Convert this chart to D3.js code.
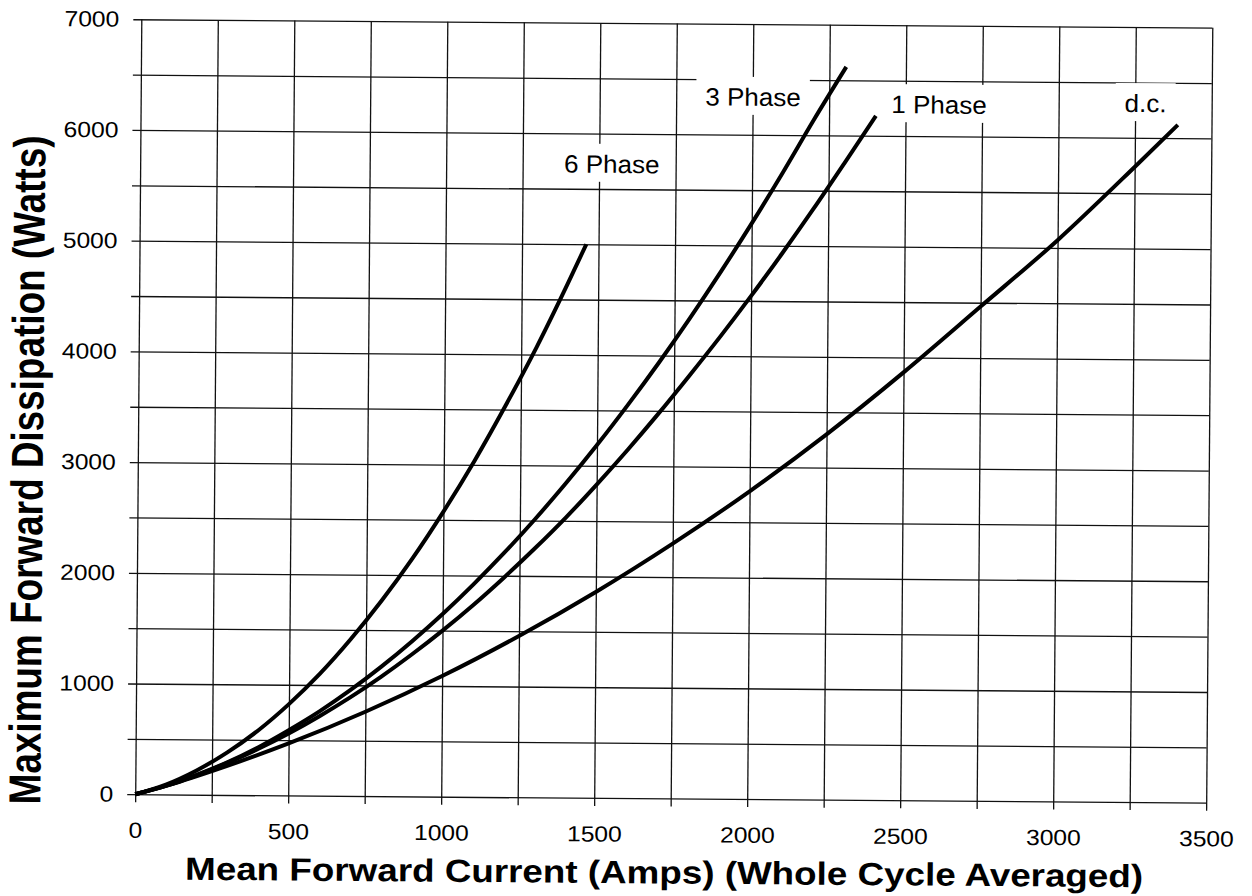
<!DOCTYPE html>
<html>
<head>
<meta charset="utf-8">
<script src="https://cdn.jsdelivr.net/npm/d3@7"></script>
<style>
    body { margin: 0; background: #fff; }
    text { font-family: "Liberation Sans", Arial, sans-serif; fill: #000; }
</style>
</head>
<body>
<div id="myPlot"></div>
<script>
// tick values and grid
const xGridValues = [0, 250, 500, 750, 1000, 1250, 1500, 1750, 2000, 2250, 2500, 2750, 3000, 3250, 3500]
const yGridValues = [0, 500, 1000, 1500, 2000, 2500, 3000, 3500, 4000, 4500, 5000, 5500, 6000, 6500, 7000]
const xTickLabels = [0, 500, 1000, 1500, 2000, 2500, 3000, 3500]
const yTickLabels = [0, 1000, 2000, 3000, 4000, 5000, 6000, 7000]

const xTitle = "Mean Forward Current (Amps) (Whole Cycle Averaged)"
const yTitle = "Maximum Forward Dissipation (Watts)"

// curves: [amps, watts]
const seriesNames = ["6 Phase", "3 Phase", "1 Phase", "d.c."]
const sixPhase = [[0, 0], [100, 90], [200, 220], [300, 385], [400, 585], [500, 825], [600, 1100],
    [700, 1415], [800, 1765], [900, 2150], [1000, 2575], [1100, 3035], [1200, 3535],
    [1300, 4065], [1400, 4640], [1460, 5000]]
const threePhase = [[0, 0], [100, 80], [200, 180], [300, 295], [400, 432], [500, 590], [600, 762],
    [700, 955], [800, 1168], [900, 1400], [1000, 1650], [1100, 1920], [1200, 2208], [1300, 2515],
    [1400, 2842], [1500, 3187], [1600, 3552], [1700, 3935], [1800, 4338], [1900, 4760],
    [2000, 5200], [2100, 5660], [2200, 6138], [2305, 6620]]
const onePhase = [[0, 0], [100, 78], [200, 176], [300, 290], [400, 418], [500, 560], [600, 718],
    [700, 890], [800, 1078], [900, 1282], [1000, 1500], [1100, 1734], [1200, 1985], [1300, 2250],
    [1400, 2530], [1500, 2830], [1600, 3145], [1700, 3475], [1800, 3820], [1900, 4175],
    [2000, 4545], [2100, 4930], [2200, 5330], [2300, 5745], [2403, 6180]]
const dcValues = [[0, 0], [100, 78], [250, 215], [500, 470], [750, 762], [1000, 1090], [1250, 1457],
    [1500, 1860], [1750, 2302], [2000, 2780], [2250, 3300], [2500, 3865], [2750, 4465],
    [3000, 5070], [3250, 5737], [3390, 6120]]

const allSeries = [sixPhase, threePhase, onePhase, dcValues]

const clientWidth = 1252
const clientHeight = 896
const margin = {top: 23.5, left: 138.25}
const width = 1071
const height = 775

const svg = d3.select("#myPlot").append("svg")
    .attr("width", clientWidth)
    .attr("height", clientHeight)
    .style("background", "#fff")

// the scan is slightly tilted
const root = svg.append("g")
    .attr("transform", `rotate(0.45, ${margin.left + width / 2}, ${margin.top + height / 2})`)
    .append("g")
    .attr("transform", `translate(${margin.left}, ${margin.top})`)

const xScale = d3.scaleLinear().domain([0, 3500]).range([0, width])
const yScale = d3.scaleLinear().domain([0, 7000]).range([height, 0])

function stretch(sel, k) {
    sel.each(function() {
        const len = this.getComputedTextLength()
        d3.select(this).attr("textLength", len * k).attr("lengthAdjust", "spacingAndGlyphs")
    })
}

const tickOut = 8

// grid lines, running a little past the frame as ticks
const xGrid = root.append("g")
    .attr("transform", `translate(0, ${height + tickOut})`)
    .call(d3.axisBottom(xScale).tickValues(xGridValues).tickSize(-(height + tickOut)).tickFormat(""))
const yGrid = root.append("g")
    .attr("transform", `translate(${-tickOut}, 0)`)
    .call(d3.axisLeft(yScale).tickValues(yGridValues).tickSize(-(width + tickOut)).tickFormat(""))
;[xGrid, yGrid].forEach(g => {
    g.select(".domain").remove()
    g.selectAll("line").attr("stroke", "#111").attr("stroke-width", 1.3)
})

// tick labels
const xLab = root.append("g")
    .attr("transform", `translate(0, ${height})`)
    .call(d3.axisBottom(xScale).tickValues(xTickLabels).tickSize(0).tickPadding(28).tickFormat(d3.format("d")))
const yLab = root.append("g")
    .call(d3.axisLeft(yScale).tickValues(yTickLabels).tickSize(0).tickPadding(22).tickFormat(d3.format("d")))
;[xLab, yLab].forEach(g => {
    g.select(".domain").remove()
    g.selectAll("text")
        .style("font-family", "'Liberation Sans', Arial, sans-serif")
        .style("font-size", "22px")
        .attr("fill", "#000")
    stretch(g.selectAll("text"), 1.12)
})

// series labels with white boxes that break the grid
const labelSpots = [[1541, 5646], [2001, 6262], [2609, 6206], [3284, 6233]]
const labelG = root.append("g")
seriesNames.forEach((name, i) => {
    const t = labelG.append("text")
        .attr("x", xScale(labelSpots[i][0]))
        .attr("y", yScale(labelSpots[i][1]))
        .attr("text-anchor", "middle")
        .style("font-size", "25px")
        .text(name)
    stretch(t, 1.04)
    const b = t.node().getBBox()
    labelG.insert("rect", "text")
        .attr("x", b.x - 9)
        .attr("y", b.y - 6)
        .attr("width", b.width + 18)
        .attr("height", b.height + 10)
        .attr("fill", "#fff")
})

// curves
const line = d3.line()
    .x(d => xScale(d[0]))
    .y(d => yScale(d[1]))
    .curve(d3.curveMonotoneX)

root.append("g").selectAll("path")
    .data(allSeries)
    .enter().append("path")
    .attr("d", line)
    .attr("fill", "none")
    .attr("stroke", "#000")
    .attr("stroke-width", 4)

// axis titles
root.append("text")
    .attr("x", width / 2 - 6)
    .attr("y", height + 85)
    .attr("text-anchor", "middle")
    .style("font-size", "32px")
    .style("font-weight", "bold")
    .attr("textLength", 958)
    .attr("lengthAdjust", "spacingAndGlyphs")
    .text(xTitle)

root.append("text")
    .attr("transform", `translate(-95, ${height / 2 + 64}) scale(1.18, 1) rotate(-90)`)
    .attr("text-anchor", "middle")
    .style("font-size", "38px")
    .style("font-weight", "bold")
    .attr("textLength", 669)
    .attr("lengthAdjust", "spacingAndGlyphs")
    .text(yTitle)
</script>
</body>
</html>
